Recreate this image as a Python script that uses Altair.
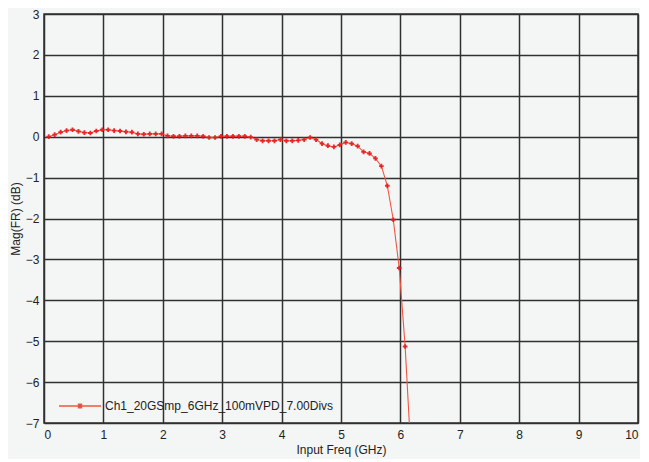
import altair as alt
import pandas as pd

freq = [0.08, 0.18, 0.28, 0.38, 0.48, 0.58, 0.68, 0.78, 0.88, 0.98,
        1.08, 1.18, 1.28, 1.38, 1.48, 1.58, 1.68, 1.78, 1.88, 1.98,
        2.08, 2.18, 2.28, 2.38, 2.48, 2.58, 2.68, 2.78, 2.88, 2.98,
        3.08, 3.18, 3.28, 3.38, 3.48, 3.58, 3.68, 3.78, 3.88, 3.98,
        4.08, 4.18, 4.28, 4.38, 4.48, 4.58, 4.68, 4.78, 4.88, 4.98,
        5.08, 5.18, 5.28, 5.38, 5.48, 5.58, 5.68, 5.78, 5.88, 5.98,
        6.08, 6.18]
mag = [0.00, 0.05, 0.11, 0.15, 0.17, 0.13, 0.10, 0.09, 0.14, 0.17,
       0.17, 0.15, 0.14, 0.12, 0.11, 0.07, 0.06, 0.07, 0.07, 0.07,
       0.02, 0.01, 0.01, 0.02, 0.02, 0.02, 0.01, -0.02, -0.02, 0.01,
       0.01, 0.01, 0.01, 0.01, -0.01, -0.07, -0.10, -0.10, -0.10, -0.07,
       -0.10, -0.10, -0.09, -0.07, -0.02, -0.07, -0.17, -0.22, -0.25, -0.20,
       -0.14, -0.17, -0.23, -0.37, -0.41, -0.53, -0.72, -1.20, -2.03, -3.21,
       -5.13, -7.80]
series_name = "Ch1_20GSmp_6GHz_100mVPD_7.00Divs"

df = pd.DataFrame({"freq": freq, "mag": mag, "series": series_name})

x_ticks = [0, 1, 2, 3, 4, 5, 6, 7, 8, 9, 10]
y_ticks = [3, 2, 1, 0, -1, -2, -3, -4, -5, -6, -7]

FONT = "Liberation Sans"
GRID = "#303030"
BG = "#f4f6f6"

x = alt.X("freq:Q", title="Input Freq (GHz)",
          scale=alt.Scale(domain=[0, 10], nice=False, zero=False),
          axis=alt.Axis(values=x_ticks, grid=True, ticks=False, labelPadding=6,
                        titlePadding=4))
y = alt.Y("mag:Q", title="Mag(FR) (dB)",
          scale=alt.Scale(domain=[-7, 3], nice=False, zero=False),
          axis=alt.Axis(values=y_ticks, grid=True, ticks=False, labelPadding=5,
                        titlePadding=3))

legend_symbol = "M-1,0L1,0M-0.07,-0.08L0.07,-0.08L0.07,0.08L-0.07,0.08Z"

line = alt.Chart(df).mark_line(strokeWidth=1.1, clip=True).encode(
    x=x, y=y,
    color=alt.Color("series:N",
                    scale=alt.Scale(range=["#f05540"]),
                    legend=alt.Legend(title=None, orient="none", legendX=14, legendY=370,
                                      symbolType=legend_symbol, symbolSize=1764,
                                      symbolStrokeWidth=1.5, symbolFillColor="#e81010",
                                      symbolStrokeColor="#f05540",
                                      labelFont=FONT, labelFontSize=12, labelLimit=0,
                                      labelColor="#222222", labelOffset=3)),
)

pts = alt.Chart(df).mark_point(shape="cross", filled=True, size=22, color="#e81818",
                               opacity=0.9, clip=True).encode(x=x, y=y)

chart = (line + pts).properties(
    width=594, height=409,
    background=BG,
    padding={"left": 36, "top": 6, "right": 2, "bottom": 36},
    autosize=alt.AutoSizeParams(type="none"),
).configure_view(
    stroke=GRID, strokeWidth=1.5, fill=BG
).configure_axis(
    gridColor=GRID, gridWidth=1.5, gridOpacity=1,
    domain=False,
    labelFont=FONT, labelFontSize=12, labelColor="#222222",
    titleFont=FONT, titleFontSize=12, titleColor="#222222", titleFontWeight="normal",
)

chart.save("out.html", embed_options={"renderer": "svg", "actions": False})
